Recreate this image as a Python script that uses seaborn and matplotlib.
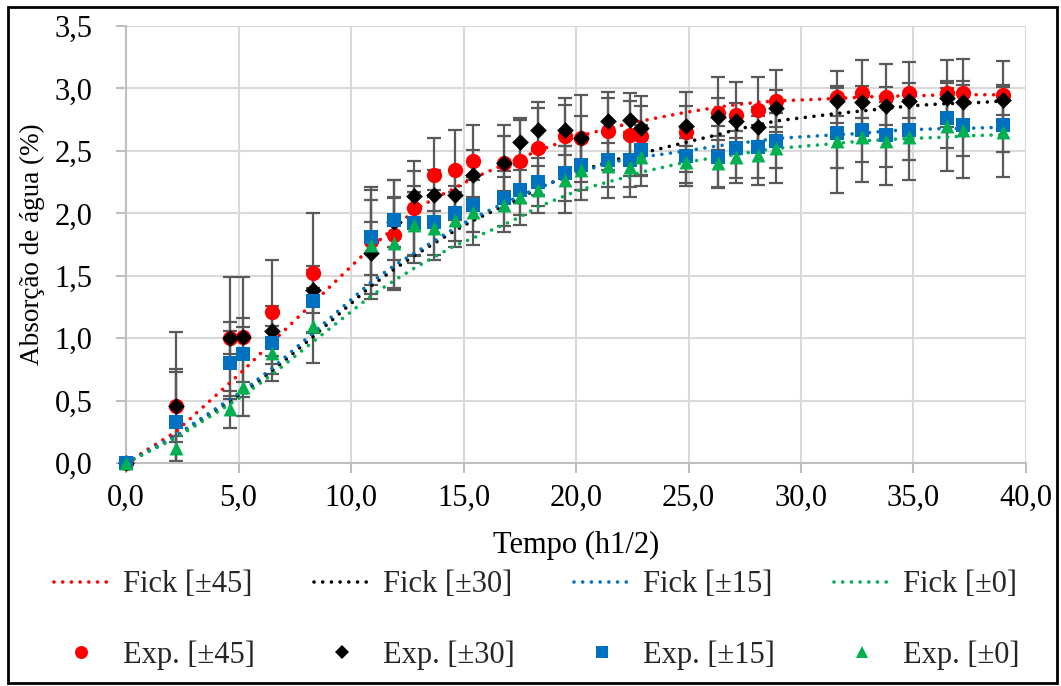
import numpy as np
import pandas as pd
import matplotlib
matplotlib.use("Agg")
import matplotlib.pyplot as plt
from matplotlib.ticker import FuncFormatter, MultipleLocator
from matplotlib.patches import Rectangle
from matplotlib.lines import Line2D
import seaborn as sns

# Square-root time (h^1/2)
tempo = [0.0, 2.2, 4.6, 5.2, 6.5, 8.3, 10.9, 11.9, 12.8, 13.7, 14.6, 15.4, 16.8, 17.5,
         18.3, 19.5, 20.2, 21.4, 22.4, 22.9, 24.9, 26.3, 27.1, 28.1, 28.9, 31.6, 32.7,
         33.8, 34.8, 36.5, 37.2, 39.0]

# Experimental water uptake (%)
exp_45 = [0, 0.46, 1.00, 1.01, 1.21, 1.52, 1.78, 1.83, 2.04, 2.31, 2.35, 2.42, 2.40, 2.42,
          2.52, 2.62, 2.60, 2.66, 2.63, 2.62, 2.65, 2.80, 2.79, 2.83, 2.90, 2.93, 2.96,
          2.93, 2.96, 2.96, 2.96, 2.95]
exp_30 = [0, 0.46, 1.00, 1.01, 1.06, 1.39, 1.68, 1.93, 2.14, 2.15, 2.15, 2.31, 2.40, 2.57,
          2.67, 2.67, 2.60, 2.74, 2.75, 2.68, 2.70, 2.77, 2.74, 2.69, 2.84, 2.90, 2.89,
          2.86, 2.90, 2.92, 2.89, 2.91]
exp_15 = [0, 0.33, 0.80, 0.87, 0.96, 1.30, 1.81, 1.95, 1.92, 1.93, 2.00, 2.07, 2.12, 2.19,
          2.25, 2.32, 2.39, 2.43, 2.43, 2.51, 2.46, 2.45, 2.52, 2.53, 2.58, 2.64, 2.67,
          2.63, 2.67, 2.76, 2.71, 2.71]
exp_0 = [0, 0.12, 0.43, 0.61, 0.88, 1.10, 1.75, 1.76, 1.91, 1.88, 1.95, 2.01, 2.07, 2.13,
         2.19, 2.27, 2.35, 2.38, 2.37, 2.45, 2.41, 2.40, 2.45, 2.47, 2.52, 2.58, 2.61,
         2.58, 2.61, 2.70, 2.67, 2.65]

# Standard deviations
err_45 = [0, 0.59, 0.49, 0.48, 0.42, 0.48, 0.43, 0.44, 0.38, 0.29, 0.32, 0.29, 0.31, 0.34,
          0.37, 0.30, 0.35, 0.31, 0.33, 0.32, 0.32, 0.29, 0.26, 0.26, 0.25, 0.21, 0.27,
          0.27, 0.25, 0.27, 0.28, 0.27]
err_30 = [0, 0.29, 0.13, 0.15, 0.20, 0.19, 0.25, 0.20, 0.20, 0.20, 0.20, 0.20, 0.22, 0.18,
          0.17, 0.20, 0.18, 0.18, 0.15, 0.18, 0.16, 0.15, 0.14, 0.16, 0.15, 0.12, 0.13,
          0.15, 0.14, 0.12, 0.14, 0.12]
err_15 = [0, 0.40, 0.26, 0.22, 0.25, 0.25, 0.30, 0.32, 0.25, 0.26, 0.22, 0.22, 0.22, 0.20,
          0.19, 0.22, 0.20, 0.22, 0.22, 0.20, 0.22, 0.25, 0.24, 0.25, 0.22, 0.28, 0.26,
          0.26, 0.24, 0.24, 0.25, 0.22]
err_0 = [0, 0.10, 0.15, 0.23, 0.22, 0.30, 0.44, 0.36, 0.31, 0.25, 0.22, 0.26, 0.22, 0.22,
         0.19, 0.27, 0.24, 0.26, 0.24, 0.23, 0.19, 0.19, 0.21, 0.24, 0.28, 0.42, 0.36,
         0.35, 0.34, 0.36, 0.39, 0.36]

# Fick model curves evaluated at the same times
fick_45 = [0, 0.25, 0.64, 0.74, 0.97, 1.28, 1.73, 1.88, 2.02, 2.12, 2.20, 2.28, 2.39, 2.44,
           2.50, 2.58, 2.62, 2.68, 2.72, 2.74, 2.81, 2.85, 2.87, 2.89, 2.90, 2.92, 2.93,
           2.94, 2.94, 2.95, 2.95, 2.95]
fick_30 = [0, 0.21, 0.49, 0.56, 0.74, 1.01, 1.42, 1.55, 1.66, 1.76, 1.86, 1.94, 2.06, 2.12,
           2.20, 2.29, 2.34, 2.41, 2.46, 2.48, 2.57, 2.63, 2.67, 2.71, 2.74, 2.80, 2.82,
           2.84, 2.86, 2.88, 2.88, 2.90]
fick_15 = [0, 0.22, 0.51, 0.58, 0.76, 1.04, 1.45, 1.58, 1.68, 1.78, 1.88, 1.96, 2.08, 2.14,
           2.20, 2.29, 2.33, 2.40, 2.44, 2.45, 2.50, 2.54, 2.56, 2.58, 2.60, 2.63, 2.64,
           2.66, 2.67, 2.68, 2.68, 2.69]
fick_0 = [0, 0.20, 0.47, 0.54, 0.71, 0.97, 1.34, 1.46, 1.56, 1.65, 1.74, 1.80, 1.91, 1.97,
          2.05, 2.14, 2.19, 2.25, 2.30, 2.33, 2.41, 2.45, 2.47, 2.50, 2.52, 2.56, 2.58,
          2.59, 2.60, 2.61, 2.62, 2.63]

layups = ["[±45]", "[±30]", "[±15]", "[±0]"]
colors = ["#FF0000", "#000000", "#0070C0", "#00B050"]
markers = ["o", "D", "s", "^"]
msizes = [11, 8.5, 10, 10]

exp_all = [exp_45, exp_30, exp_15, exp_0]
err_all = [err_45, err_30, err_15, err_0]
fick_all = [fick_45, fick_30, fick_15, fick_0]

sns.set_theme(style="white")
plt.rcParams["font.family"] = ["Liberation Serif", "DejaVu Serif"]
FS = 22

fig = plt.figure(figsize=(10.61, 6.86), dpi=100)
ax = fig.add_axes([0.1188, 0.325, 0.8482, 0.637])

grid_c = "#D9D9D9"
axis_c = "#BFBFBF"

# Error bars
for exp, err in zip(exp_all, err_all):
    ax.errorbar(tempo, exp, yerr=err, fmt="none", ecolor="#595959",
                elinewidth=1.6, capsize=5, capthick=1.6, zorder=2)

# Fick curves (round dots)
dots = (0, (0.01, 2.4))
for lay, fick, c in zip(layups, fick_all, colors):
    df = pd.DataFrame({"t": tempo, "m": fick})
    sns.lineplot(data=df, x="t", y="m", ax=ax, color=c, linewidth=2.6,
                 linestyle=dots, sort=False, estimator=None, zorder=3,
                 dash_capstyle="round", legend=False)

# Experimental points
for lay, exp, c, mk, ms in zip(layups, exp_all, colors, markers, msizes):
    df = pd.DataFrame({"t": tempo, "m": exp})
    sns.scatterplot(data=df, x="t", y="m", ax=ax, color=c, marker=mk,
                    s=ms ** 2, linewidth=0, zorder=4, legend=False, clip_on=False)

ax.set_xlim(0, 40)
ax.set_ylim(0, 3.5)
ax.xaxis.set_major_locator(MultipleLocator(5))
ax.yaxis.set_major_locator(MultipleLocator(0.5))
comma = FuncFormatter(lambda v, p: f"{v:.1f}".replace(".", ","))
ax.xaxis.set_major_formatter(comma)
ax.yaxis.set_major_formatter(comma)

ax.grid(True, color=grid_c, linewidth=1.5, zorder=0)
ax.set_axisbelow(True)
for s in ["top", "right"]:
    ax.spines[s].set_visible(False)
for s in ["left", "bottom"]:
    ax.spines[s].set_color(axis_c)
    ax.spines[s].set_linewidth(1.5)
ax.tick_params(axis="y", direction="out", length=7, width=1.5, color=axis_c,
               pad=17, labelsize=FS, labelcolor="black", left=True)
ax.tick_params(axis="x", direction="out", length=7, width=1.5, color=axis_c,
               pad=8, labelsize=FS, labelcolor="black", bottom=True)

ax.set_xlabel("Tempo (h1/2)", fontsize=FS, labelpad=13, color="black")
ax.set_ylabel("Absorção de água (%)", fontsize=19.5, labelpad=7, color="black")

# Legend: Fick curves on the first row, experimental points on the second
handles, labels = [], []
for lay, c, mk, ms in zip(layups, colors, markers, msizes):
    handles.append(Line2D([], [], color=c, linewidth=2.6, linestyle=dots,
                          dash_capstyle="round"))
    labels.append(f"Fick {lay}")
    handles.append(Line2D([], [], color=c, marker=mk, markersize=ms * 0.85,
                          linestyle="none", markeredgewidth=0))
    labels.append(f"Exp. {lay}")
fig.legend(handles, labels, ncol=4, loc="center", bbox_to_anchor=(0.506, 0.096),
           frameon=False, fontsize=FS, handlelength=1.8, handletextpad=0.45,
           columnspacing=1.95, labelspacing=1.35)

# Figure frame
fig.patches.append(Rectangle((0.0075, 0.004), 0.989, 0.986, transform=fig.transFigure,
                             fill=False, edgecolor="black", linewidth=2))

fig.savefig("out.png", dpi=100)
